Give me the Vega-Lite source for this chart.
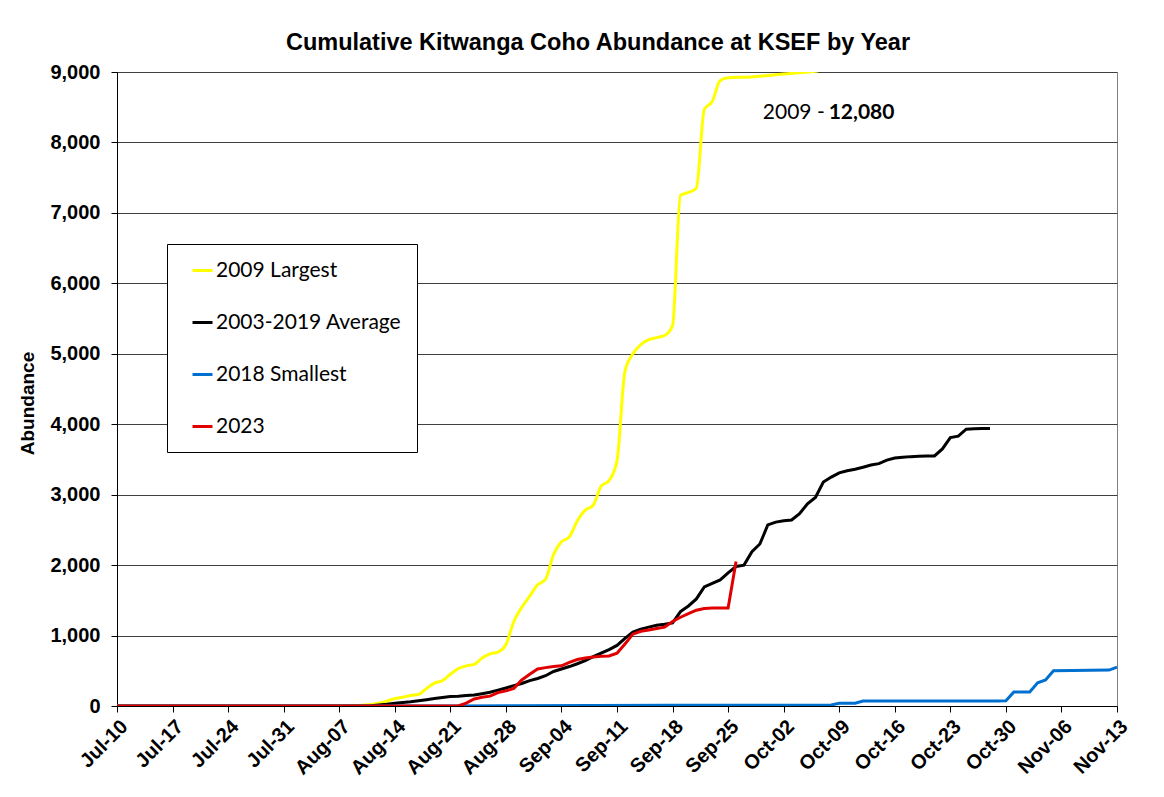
{
  "$schema": "https://vega.github.io/schema/vega-lite/v6.json",
  "width": 1000,
  "height": 634,
  "autosize": {"type": "none"},
  "padding": {"left": 117, "top": 72, "right": 47, "bottom": 91},
  "background": "white",
  "title": {
    "text": "Cumulative Kitwanga Coho Abundance at KSEF by Year",
    "font": "Liberation Sans",
    "fontSize": 23.5,
    "fontWeight": "bold",
    "color": "black",
    "anchor": "middle",
    "dx": -19,
    "offset": 8
  },
  "config": {
    "view": {"stroke": "#808080", "strokeWidth": 1},
    "legend": {
      "orient": "none",
      "legendX": 50,
      "legendY": 172,
      "direction": "vertical",
      "strokeColor": "black",
      "fillColor": "white",
      "padding": 15,
      "rowPadding": 30,
      "symbolType": "stroke",
      "symbolSize": 400,
      "symbolStrokeWidth": 3,
      "symbolOffset": 9,
      "labelOffset": 2,
      "labelFont": "Lato",
      "labelFontSize": 21,
      "labelColor": "black",
      "labelLimit": 400
    }
  },
  "data": {
    "values": [
      {"date": "2022-07-10", "series": "2009 Largest", "value": 0},
      {"date": "2022-08-03", "series": "2009 Largest", "value": 0},
      {"date": "2022-08-05", "series": "2009 Largest", "value": 2},
      {"date": "2022-08-07", "series": "2009 Largest", "value": 5},
      {"date": "2022-08-09", "series": "2009 Largest", "value": 8},
      {"date": "2022-08-10", "series": "2009 Largest", "value": 12},
      {"date": "2022-08-11", "series": "2009 Largest", "value": 20},
      {"date": "2022-08-12", "series": "2009 Largest", "value": 40},
      {"date": "2022-08-13", "series": "2009 Largest", "value": 70},
      {"date": "2022-08-14", "series": "2009 Largest", "value": 105},
      {"date": "2022-08-15", "series": "2009 Largest", "value": 125},
      {"date": "2022-08-16", "series": "2009 Largest", "value": 150},
      {"date": "2022-08-17", "series": "2009 Largest", "value": 165},
      {"date": "2022-08-18", "series": "2009 Largest", "value": 250},
      {"date": "2022-08-19", "series": "2009 Largest", "value": 325},
      {"date": "2022-08-20", "series": "2009 Largest", "value": 360},
      {"date": "2022-08-21", "series": "2009 Largest", "value": 450},
      {"date": "2022-08-22", "series": "2009 Largest", "value": 530},
      {"date": "2022-08-23", "series": "2009 Largest", "value": 570},
      {"date": "2022-08-24", "series": "2009 Largest", "value": 590},
      {"date": "2022-08-25", "series": "2009 Largest", "value": 680},
      {"date": "2022-08-26", "series": "2009 Largest", "value": 740},
      {"date": "2022-08-27", "series": "2009 Largest", "value": 765},
      {"date": "2022-08-28", "series": "2009 Largest", "value": 870},
      {"date": "2022-08-29", "series": "2009 Largest", "value": 1200},
      {"date": "2022-08-30", "series": "2009 Largest", "value": 1400},
      {"date": "2022-08-31", "series": "2009 Largest", "value": 1560},
      {"date": "2022-09-01", "series": "2009 Largest", "value": 1720},
      {"date": "2022-09-02", "series": "2009 Largest", "value": 1800},
      {"date": "2022-09-03", "series": "2009 Largest", "value": 2150},
      {"date": "2022-09-04", "series": "2009 Largest", "value": 2330},
      {"date": "2022-09-05", "series": "2009 Largest", "value": 2400},
      {"date": "2022-09-06", "series": "2009 Largest", "value": 2630},
      {"date": "2022-09-07", "series": "2009 Largest", "value": 2780},
      {"date": "2022-09-08", "series": "2009 Largest", "value": 2850},
      {"date": "2022-09-09", "series": "2009 Largest", "value": 3120},
      {"date": "2022-09-10", "series": "2009 Largest", "value": 3200},
      {"date": "2022-09-11", "series": "2009 Largest", "value": 3480},
      {"date": "2022-09-12", "series": "2009 Largest", "value": 4750},
      {"date": "2022-09-13", "series": "2009 Largest", "value": 5000},
      {"date": "2022-09-14", "series": "2009 Largest", "value": 5130},
      {"date": "2022-09-15", "series": "2009 Largest", "value": 5200},
      {"date": "2022-09-16", "series": "2009 Largest", "value": 5230},
      {"date": "2022-09-17", "series": "2009 Largest", "value": 5260},
      {"date": "2022-09-18", "series": "2009 Largest", "value": 5400},
      {"date": "2022-09-19", "series": "2009 Largest", "value": 7250},
      {"date": "2022-09-20", "series": "2009 Largest", "value": 7290},
      {"date": "2022-09-21", "series": "2009 Largest", "value": 7350},
      {"date": "2022-09-22", "series": "2009 Largest", "value": 8470},
      {"date": "2022-09-23", "series": "2009 Largest", "value": 8580},
      {"date": "2022-09-24", "series": "2009 Largest", "value": 8880},
      {"date": "2022-09-25", "series": "2009 Largest", "value": 8920},
      {"date": "2022-09-28", "series": "2009 Largest", "value": 8930},
      {"date": "2022-09-30", "series": "2009 Largest", "value": 8950},
      {"date": "2022-10-02", "series": "2009 Largest", "value": 8970},
      {"date": "2022-10-04", "series": "2009 Largest", "value": 8990},
      {"date": "2022-10-06", "series": "2009 Largest", "value": 9010},
      {"date": "2022-10-08", "series": "2009 Largest", "value": 9100},
      {"date": "2022-10-13", "series": "2009 Largest", "value": 9800},
      {"date": "2022-10-20", "series": "2009 Largest", "value": 11000},
      {"date": "2022-10-28", "series": "2009 Largest", "value": 11900},
      {"date": "2022-11-04", "series": "2009 Largest", "value": 12080},
      {"date": "2022-11-13", "series": "2009 Largest", "value": 12080},

      {"date": "2022-07-10", "series": "2003-2019 Average", "value": 0},
      {"date": "2022-08-10", "series": "2003-2019 Average", "value": 0},
      {"date": "2022-08-11", "series": "2003-2019 Average", "value": 5},
      {"date": "2022-08-12", "series": "2003-2019 Average", "value": 15},
      {"date": "2022-08-13", "series": "2003-2019 Average", "value": 25},
      {"date": "2022-08-14", "series": "2003-2019 Average", "value": 40},
      {"date": "2022-08-15", "series": "2003-2019 Average", "value": 50},
      {"date": "2022-08-16", "series": "2003-2019 Average", "value": 60},
      {"date": "2022-08-17", "series": "2003-2019 Average", "value": 75},
      {"date": "2022-08-18", "series": "2003-2019 Average", "value": 90},
      {"date": "2022-08-19", "series": "2003-2019 Average", "value": 105},
      {"date": "2022-08-20", "series": "2003-2019 Average", "value": 120},
      {"date": "2022-08-21", "series": "2003-2019 Average", "value": 135},
      {"date": "2022-08-22", "series": "2003-2019 Average", "value": 140},
      {"date": "2022-08-23", "series": "2003-2019 Average", "value": 148},
      {"date": "2022-08-24", "series": "2003-2019 Average", "value": 155},
      {"date": "2022-08-25", "series": "2003-2019 Average", "value": 175},
      {"date": "2022-08-26", "series": "2003-2019 Average", "value": 195},
      {"date": "2022-08-27", "series": "2003-2019 Average", "value": 225},
      {"date": "2022-08-28", "series": "2003-2019 Average", "value": 255},
      {"date": "2022-08-29", "series": "2003-2019 Average", "value": 290},
      {"date": "2022-08-30", "series": "2003-2019 Average", "value": 320},
      {"date": "2022-08-31", "series": "2003-2019 Average", "value": 360},
      {"date": "2022-09-01", "series": "2003-2019 Average", "value": 390},
      {"date": "2022-09-02", "series": "2003-2019 Average", "value": 430},
      {"date": "2022-09-03", "series": "2003-2019 Average", "value": 490},
      {"date": "2022-09-04", "series": "2003-2019 Average", "value": 525},
      {"date": "2022-09-05", "series": "2003-2019 Average", "value": 560},
      {"date": "2022-09-06", "series": "2003-2019 Average", "value": 600},
      {"date": "2022-09-07", "series": "2003-2019 Average", "value": 645},
      {"date": "2022-09-08", "series": "2003-2019 Average", "value": 700},
      {"date": "2022-09-09", "series": "2003-2019 Average", "value": 750},
      {"date": "2022-09-10", "series": "2003-2019 Average", "value": 800},
      {"date": "2022-09-11", "series": "2003-2019 Average", "value": 860},
      {"date": "2022-09-12", "series": "2003-2019 Average", "value": 960},
      {"date": "2022-09-13", "series": "2003-2019 Average", "value": 1050},
      {"date": "2022-09-14", "series": "2003-2019 Average", "value": 1090},
      {"date": "2022-09-15", "series": "2003-2019 Average", "value": 1120},
      {"date": "2022-09-16", "series": "2003-2019 Average", "value": 1145},
      {"date": "2022-09-17", "series": "2003-2019 Average", "value": 1160},
      {"date": "2022-09-18", "series": "2003-2019 Average", "value": 1180},
      {"date": "2022-09-19", "series": "2003-2019 Average", "value": 1340},
      {"date": "2022-09-20", "series": "2003-2019 Average", "value": 1420},
      {"date": "2022-09-21", "series": "2003-2019 Average", "value": 1520},
      {"date": "2022-09-22", "series": "2003-2019 Average", "value": 1690},
      {"date": "2022-09-23", "series": "2003-2019 Average", "value": 1740},
      {"date": "2022-09-24", "series": "2003-2019 Average", "value": 1790},
      {"date": "2022-09-25", "series": "2003-2019 Average", "value": 1890},
      {"date": "2022-09-26", "series": "2003-2019 Average", "value": 1980},
      {"date": "2022-09-27", "series": "2003-2019 Average", "value": 2000},
      {"date": "2022-09-28", "series": "2003-2019 Average", "value": 2190},
      {"date": "2022-09-29", "series": "2003-2019 Average", "value": 2300},
      {"date": "2022-09-30", "series": "2003-2019 Average", "value": 2570},
      {"date": "2022-10-01", "series": "2003-2019 Average", "value": 2610},
      {"date": "2022-10-02", "series": "2003-2019 Average", "value": 2630},
      {"date": "2022-10-03", "series": "2003-2019 Average", "value": 2640},
      {"date": "2022-10-04", "series": "2003-2019 Average", "value": 2730},
      {"date": "2022-10-05", "series": "2003-2019 Average", "value": 2870},
      {"date": "2022-10-06", "series": "2003-2019 Average", "value": 2960},
      {"date": "2022-10-07", "series": "2003-2019 Average", "value": 3180},
      {"date": "2022-10-08", "series": "2003-2019 Average", "value": 3250},
      {"date": "2022-10-09", "series": "2003-2019 Average", "value": 3310},
      {"date": "2022-10-10", "series": "2003-2019 Average", "value": 3340},
      {"date": "2022-10-11", "series": "2003-2019 Average", "value": 3360},
      {"date": "2022-10-12", "series": "2003-2019 Average", "value": 3390},
      {"date": "2022-10-13", "series": "2003-2019 Average", "value": 3420},
      {"date": "2022-10-14", "series": "2003-2019 Average", "value": 3440},
      {"date": "2022-10-15", "series": "2003-2019 Average", "value": 3490},
      {"date": "2022-10-16", "series": "2003-2019 Average", "value": 3520},
      {"date": "2022-10-17", "series": "2003-2019 Average", "value": 3530},
      {"date": "2022-10-18", "series": "2003-2019 Average", "value": 3540},
      {"date": "2022-10-19", "series": "2003-2019 Average", "value": 3545},
      {"date": "2022-10-20", "series": "2003-2019 Average", "value": 3548},
      {"date": "2022-10-21", "series": "2003-2019 Average", "value": 3550},
      {"date": "2022-10-22", "series": "2003-2019 Average", "value": 3650},
      {"date": "2022-10-23", "series": "2003-2019 Average", "value": 3810},
      {"date": "2022-10-24", "series": "2003-2019 Average", "value": 3830},
      {"date": "2022-10-25", "series": "2003-2019 Average", "value": 3930},
      {"date": "2022-10-26", "series": "2003-2019 Average", "value": 3935},
      {"date": "2022-10-27", "series": "2003-2019 Average", "value": 3938},
      {"date": "2022-10-28", "series": "2003-2019 Average", "value": 3940},

      {"date": "2022-07-10", "series": "2018 Smallest", "value": 0},
      {"date": "2022-08-21", "series": "2018 Smallest", "value": 0},
      {"date": "2022-08-29", "series": "2018 Smallest", "value": 3},
      {"date": "2022-09-08", "series": "2018 Smallest", "value": 8},
      {"date": "2022-09-18", "series": "2018 Smallest", "value": 10},
      {"date": "2022-10-07", "series": "2018 Smallest", "value": 10},
      {"date": "2022-10-08", "series": "2018 Smallest", "value": 15},
      {"date": "2022-10-09", "series": "2018 Smallest", "value": 40},
      {"date": "2022-10-11", "series": "2018 Smallest", "value": 40},
      {"date": "2022-10-12", "series": "2018 Smallest", "value": 70},
      {"date": "2022-10-29", "series": "2018 Smallest", "value": 72},
      {"date": "2022-10-30", "series": "2018 Smallest", "value": 75},
      {"date": "2022-10-31", "series": "2018 Smallest", "value": 200},
      {"date": "2022-11-02", "series": "2018 Smallest", "value": 200},
      {"date": "2022-11-03", "series": "2018 Smallest", "value": 330},
      {"date": "2022-11-04", "series": "2018 Smallest", "value": 370},
      {"date": "2022-11-05", "series": "2018 Smallest", "value": 500},
      {"date": "2022-11-12", "series": "2018 Smallest", "value": 510},
      {"date": "2022-11-13", "series": "2018 Smallest", "value": 550},

      {"date": "2022-07-10", "series": "2023", "value": 0},
      {"date": "2022-08-22", "series": "2023", "value": 0},
      {"date": "2022-08-23", "series": "2023", "value": 40},
      {"date": "2022-08-24", "series": "2023", "value": 100},
      {"date": "2022-08-25", "series": "2023", "value": 125},
      {"date": "2022-08-26", "series": "2023", "value": 140},
      {"date": "2022-08-27", "series": "2023", "value": 190},
      {"date": "2022-08-28", "series": "2023", "value": 215},
      {"date": "2022-08-29", "series": "2023", "value": 250},
      {"date": "2022-08-30", "series": "2023", "value": 370},
      {"date": "2022-08-31", "series": "2023", "value": 450},
      {"date": "2022-09-01", "series": "2023", "value": 525},
      {"date": "2022-09-02", "series": "2023", "value": 545},
      {"date": "2022-09-03", "series": "2023", "value": 560},
      {"date": "2022-09-04", "series": "2023", "value": 570},
      {"date": "2022-09-05", "series": "2023", "value": 620},
      {"date": "2022-09-06", "series": "2023", "value": 660},
      {"date": "2022-09-07", "series": "2023", "value": 680},
      {"date": "2022-09-08", "series": "2023", "value": 695},
      {"date": "2022-09-09", "series": "2023", "value": 705},
      {"date": "2022-09-10", "series": "2023", "value": 710},
      {"date": "2022-09-11", "series": "2023", "value": 750},
      {"date": "2022-09-12", "series": "2023", "value": 880},
      {"date": "2022-09-13", "series": "2023", "value": 1020},
      {"date": "2022-09-14", "series": "2023", "value": 1060},
      {"date": "2022-09-15", "series": "2023", "value": 1080},
      {"date": "2022-09-16", "series": "2023", "value": 1100},
      {"date": "2022-09-17", "series": "2023", "value": 1120},
      {"date": "2022-09-18", "series": "2023", "value": 1200},
      {"date": "2022-09-19", "series": "2023", "value": 1260},
      {"date": "2022-09-20", "series": "2023", "value": 1310},
      {"date": "2022-09-21", "series": "2023", "value": 1360},
      {"date": "2022-09-22", "series": "2023", "value": 1385},
      {"date": "2022-09-23", "series": "2023", "value": 1390},
      {"date": "2022-09-25", "series": "2023", "value": 1390},
      {"date": "2022-09-26", "series": "2023", "value": 2050}
    ]
  },
  "encoding": {
    "x": {
      "field": "date",
      "type": "temporal",
      "scale": {
        "type": "utc",
        "domain": [
          {"year": 2022, "month": "jul", "date": 10, "utc": true},
          {"year": 2022, "month": "nov", "date": 13, "utc": true}
        ]
      },
      "axis": {
        "title": null,
        "format": "%b-%d",
        "tickCount": {"interval": "week", "step": 1},
        "labelAngle": -45,
        "labelFont": "Liberation Sans",
        "labelFontWeight": "bold",
        "labelFontSize": 20,
        "labelColor": "black",
        "labelOverlap": false,
        "labelFlush": false,
        "labelPadding": 4,
        "tickColor": "black",
        "domainColor": "black",
        "tickSize": 6,
        "grid": false
      }
    },
    "y": {
      "field": "value",
      "type": "quantitative",
      "scale": {"domain": [0, 9000], "nice": false},
      "axis": {
        "title": "Abundance",
        "values": [0, 1000, 2000, 3000, 4000, 5000, 6000, 7000, 8000, 9000],
        "format": ",.0f",
        "grid": true,
        "gridColor": "#404040",
        "gridWidth": 1,
        "labelFont": "Liberation Sans",
        "labelFontWeight": "bold",
        "labelFontSize": 20,
        "labelColor": "black",
        "labelPadding": 11,
        "tickColor": "black",
        "domainColor": "black",
        "tickSize": 6,
        "titleFont": "Liberation Sans",
        "titleFontSize": 19,
        "titleFontWeight": "bold",
        "titleColor": "black",
        "titlePadding": 12,
        "titleY": 331
      }
    }
  },
  "layer": [
    {
      "transform": [{"filter": "datum.series === '2009 Largest'"}],
      "mark": {"type": "line", "interpolate": "monotone", "strokeWidth": 3, "clip": true},
      "encoding": {
        "color": {
          "field": "series",
          "type": "nominal",
          "title": null,
          "scale": {
            "domain": ["2009 Largest", "2003-2019 Average", "2018 Smallest", "2023"],
            "range": ["#FFFF00", "#000000", "#0070D0", "#E00000"]
          }
        }
      }
    },
    {
      "transform": [{"filter": "datum.series !== '2009 Largest'"}],
      "mark": {"type": "line", "interpolate": "linear", "strokeWidth": 3, "clip": true},
      "encoding": {
        "color": {
          "field": "series",
          "type": "nominal",
          "title": null,
          "scale": {
            "domain": ["2009 Largest", "2003-2019 Average", "2018 Smallest", "2023"],
            "range": ["#FFFF00", "#000000", "#0070D0", "#E00000"]
          }
        }
      }
    },
    {
      "data": {"values": [{"date": "2022-09-29T09:00:00Z", "value": 8420, "label": "2009 -"}]},
      "mark": {"type": "text", "align": "left", "baseline": "middle", "font": "Lato", "fontSize": 21, "color": "black"},
      "encoding": {"text": {"field": "label"}}
    },
    {
      "data": {"values": [{"date": "2022-10-07T16:00:00Z", "value": 8420, "label": "12,080"}]},
      "mark": {"type": "text", "align": "left", "baseline": "middle", "font": "Lato", "fontSize": 21, "fontWeight": "bold", "color": "black"},
      "encoding": {"text": {"field": "label"}}
    }
  ]
}
